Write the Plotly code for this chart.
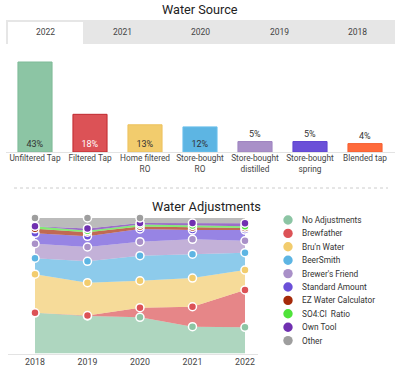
import plotly.graph_objects as go

W, H = 400, 373
FONT = "Roboto"

# ---------------- data ----------------
TAB_LABELS = ["2022", "2021", "2020", "2019", "2018"]

SOURCE_CATEGORIES = ["Unfiltered Tap", "Filtered Tap", "Home filtered RO", "Store-bought RO",
                     "Store-bought distilled", "Store-bought spring", "Blended tap"]
SOURCE_TICKS = ["Unfiltered Tap", "Filtered Tap", "Home filtered<br>RO", "Store-bought<br>RO",
                "Store-bought<br>distilled", "Store-bought<br>spring", "Blended tap"]
SOURCE_VALUES = [43, 18, 13, 12, 5, 5, 4]
SOURCE_COLORS = ["#8CC5A4", "#DC5256", "#F2CC6D", "#5DB5E3", "#A990C8", "#6B50D8", "#FF6B3C"]
SOURCE_LINES = ["#7FBB98", "#C0282E", "#EDC25E", "#6CC0EC", "#9E84C0", "#5F44D0", "#F55F30"]

YEARS = [2018, 2019, 2020, 2021, 2022]
ADJ_NAMES = ["No Adjustments", "Brewfather", "Bru'n Water", "BeerSmith", "Brewer's Friend",
             "Standard Amount", "EZ Water Calculator", "SO4:Cl  Ratio", "Own Tool", "Other"]
NO_ADJ = [30.0, 27.7, 26.7, 19.8, 19.3]
BREWFATHER = [0.0, 0.3, 7.1, 14.7, 27.6]
BRUN_WATER = [28.5, 24.3, 19.9, 21.2, 14.7]
BEERSMITH = [11.8, 15.7, 18.5, 17.6, 12.8]
BREWERS_FRIEND = [10.7, 10.6, 10.3, 11.0, 8.8]
STANDARD = [7.7, 7.9, 9.4, 6.8, 7.9]
EZ_WATER = [3.3, 3.0, 1.8, 1.9, 1.5]
SO4CL = [2.0, 1.0, 1.5, 1.5, 1.4]
OWN_TOOL = [None, 1.8, 1.1, 1.8, 2.2]
OTHER = [6.0, 7.7, 3.7, 3.7, 3.8]
ADJ_SERIES = [NO_ADJ, BREWFATHER, BRUN_WATER, BEERSMITH, BREWERS_FRIEND,
              STANDARD, EZ_WATER, SO4CL, OWN_TOOL, OTHER]
ADJ_COLORS = ["#8CC5A4", "#DC5256", "#F2CC6D", "#5DB5E3", "#A990C8",
              "#6B50D8", "#A52A0A", "#4FE33A", "#7030B0", "#9E9E9E"]


def px(x):
    return x / W


def py(y):
    return 1 - y / H


def rgba(hexc, a):
    h = hexc.lstrip("#")
    r, g, b = int(h[0:2], 16), int(h[2:4], 16), int(h[4:6], 16)
    return f"rgba({r},{g},{b},{a})"


fig = go.Figure()

# ---------------- bar chart ----------------
text_pos = ["inside" if v >= 10 else "outside" for v in SOURCE_VALUES]
text_col = ["#333333", "#ffffff", "#333333", "#333333", "#333333", "#333333", "#333333"]
fig.add_trace(go.Bar(
    x=SOURCE_CATEGORIES, y=SOURCE_VALUES,
    marker=dict(color=SOURCE_COLORS, line=dict(color=SOURCE_LINES, width=1)),
    text=[f"{v}%" for v in SOURCE_VALUES], textposition=text_pos,
    insidetextanchor="start", constraintext="none",
    textfont=dict(family=FONT, size=9, color=text_col),
    width=0.62, cliponaxis=False, showlegend=False, hoverinfo="skip",
    xaxis="x", yaxis="y"))

# ---------------- stacked area chart ----------------
for name, vals, col in zip(ADJ_NAMES, ADJ_SERIES, ADJ_COLORS):
    fig.add_trace(go.Scatter(
        x=YEARS, y=vals, name=name, stackgroup="adj", mode="lines+markers",
        line=dict(width=0, color=col), fillcolor=rgba(col, 0.7),
        marker=dict(color=col, size=8, line=dict(color="#ffffff", width=1.5)),
        cliponaxis=False, showlegend=False, hoverinfo="skip",
        xaxis="x2", yaxis="y2"))

BAR_BASE = 152.0
BAR_TOP_VAL = 45
bar_top_px = BAR_BASE - BAR_TOP_VAL * (90.0 / 43)

AREA_BASE, AREA_TOP = 353.5, 218.0

fig.update_layout(
    width=W, height=H, margin=dict(l=0, r=0, t=0, b=0),
    paper_bgcolor="#ffffff", plot_bgcolor="rgba(0,0,0,0)",
    font=dict(family=FONT, color="#444444"),
    bargap=0.38, showlegend=False,
    xaxis=dict(domain=[px(7.5), px(392.5)], range=[-0.5, 6.5], anchor="y",
               tickmode="array", tickvals=SOURCE_CATEGORIES, ticktext=SOURCE_TICKS,
               tickfont=dict(family=FONT, size=8.3, color="#444444"),
               showgrid=False, zeroline=False, showline=False, ticks="",
               fixedrange=True),
    yaxis=dict(domain=[py(BAR_BASE), py(bar_top_px)], range=[0, BAR_TOP_VAL],
               visible=False, fixedrange=True),
    xaxis2=dict(domain=[px(8), px(258)], range=[2017.486, 2022.248], anchor="y2",
                tickmode="array", tickvals=YEARS, ticktext=[str(y) for y in YEARS],
                tickfont=dict(family=FONT, size=8.8, color="#444444"),
                showgrid=False, zeroline=False, showline=True, linecolor="#e3e3e3",
                linewidth=1, ticks="", fixedrange=True),
    yaxis2=dict(domain=[py(AREA_BASE), py(AREA_TOP)], range=[0, 100],
                visible=False, fixedrange=True),
)

shapes = []
annotations = []

# tabs
shapes.append(dict(type="rect", xref="paper", yref="paper", x0=px(6), x1=px(395),
                   y0=py(44), y1=py(20), fillcolor="#E6E6E6", line=dict(width=0), layer="below"))
shapes.append(dict(type="rect", xref="paper", yref="paper", x0=px(8), x1=px(83),
                   y0=py(45), y1=py(22), fillcolor="#ffffff", line=dict(width=0), layer="below"))
tab_x = [45.5, 122.5, 200, 279, 357]
for lab, tx in zip(TAB_LABELS, tab_x):
    annotations.append(dict(text=lab, xref="paper", yref="paper", x=px(tx), y=py(32.5),
                            showarrow=False, xanchor="center", yanchor="middle",
                            font=dict(family=FONT, size=8.5, color="#444444")))

# titles
annotations.append(dict(text="Water Source", xref="paper", yref="paper", x=px(200), y=py(9),
                        showarrow=False, xanchor="center", yanchor="middle",
                        font=dict(family=FONT, size=12.7, color="#222222")))
annotations.append(dict(text="Water Adjustments", xref="paper", yref="paper", x=px(206), y=py(206),
                        showarrow=False, xanchor="center", yanchor="middle",
                        font=dict(family=FONT, size=12.8, color="#222222")))

# bar baseline
shapes.append(dict(type="line", xref="paper", yref="paper", x0=px(6), x1=px(395),
                   y0=py(152.5), y1=py(152.5), line=dict(color="#e3e3e3", width=1)))
# dotted separator
shapes.append(dict(type="line", xref="paper", yref="paper", x0=px(14), x1=px(388),
                   y0=py(188), y1=py(188), line=dict(color="#cccccc", width=1, dash="dot")))

# legend (manual, compact)
for i, (name, col) in enumerate(zip(ADJ_NAMES, ADJ_COLORS)):
    yy = 220 + i * 13.4
    shapes.append(dict(type="circle", xref="paper", yref="paper",
                       xsizemode="pixel", ysizemode="pixel",
                       xanchor=px(288), yanchor=py(yy), x0=-4.7, x1=4.7, y0=-4.7, y1=4.7,
                       fillcolor=col, line=dict(width=0)))
    annotations.append(dict(text=name, xref="paper", yref="paper", x=px(300), y=py(yy),
                            showarrow=False, xanchor="left", yanchor="middle",
                            font=dict(family=FONT, size=8.3, color="#333333")))

fig.update_layout(shapes=shapes, annotations=annotations)
fig.write_html("out.html", config={"displayModeBar": False},
               post_script="document.body.style.margin='0';document.body.style.padding='0';")
